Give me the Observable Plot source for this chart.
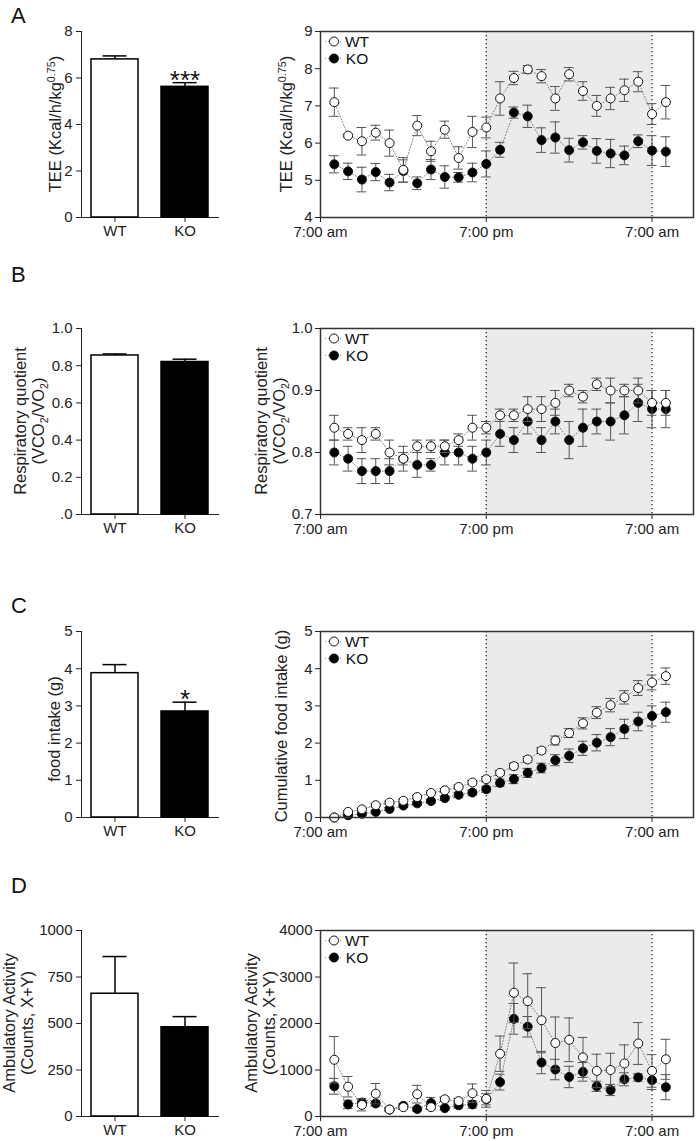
<!DOCTYPE html>
<html><head><meta charset="utf-8">
<script src="https://cdn.jsdelivr.net/npm/d3@7"></script>
<script src="https://cdn.jsdelivr.net/npm/@observablehq/plot@0.6"></script>
<style>
body{margin:0;background:#fff;font-family:"Liberation Sans",Arial,sans-serif;}
#root{position:relative;width:700px;height:1141px;overflow:hidden;background:#fff;}
#root svg{position:absolute;overflow:visible;}
.letter{position:absolute;font-size:22px;line-height:22px;color:#111;}
.ylab{position:absolute;transform:translate(-50%,-50%) rotate(-90deg);white-space:nowrap;text-align:center;font-size:16.5px;line-height:18px;color:#222;}
.ylab sup,.ylab sub{font-size:0.65em;line-height:0;}
</style></head>
<body><div id="root"></div>
<script>
// ---------- data ----------
const groups = ["WT", "KO"];
const hours = [1,2,3,4,5,6,7,8,9,10,11,12,13,14,15,16,17,18,19,20,21,22,23,24,25];
const timeTicks = [0, 12, 24];
const timeLabels = ["7:00 am", "7:00 pm", "7:00 am"];
const darkPhase = [{start: 12, end: 24}];

// A: TEE
const teeBar = [6.8, 5.62];
const teeBarErr = [0.15, 0.18];
const teeBarSig = ["", "***"];
const teeWT = [7.1,6.2,6.05,6.28,6.0,5.28,6.47,5.78,6.36,5.6,6.3,6.42,7.2,7.75,7.98,7.8,7.2,7.85,7.4,7.0,7.2,7.42,7.65,6.78,7.1];
const teeWTErr = [0.38,0.04,0.37,0.2,0.35,0.33,0.27,0.27,0.23,0.3,0.42,0.28,0.45,0.18,0.1,0.18,0.32,0.18,0.25,0.28,0.3,0.3,0.27,0.28,0.45];
const teeKO = [5.43,5.24,5.02,5.22,4.94,5.25,4.92,5.29,5.09,5.08,5.21,5.44,5.82,6.82,6.72,6.08,6.15,5.81,6.02,5.79,5.72,5.67,6.05,5.8,5.77];
const teeKOErr = [0.23,0.22,0.33,0.23,0.22,0.3,0.17,0.27,0.3,0.13,0.25,0.35,0.2,0.15,0.3,0.33,0.42,0.32,0.18,0.33,0.38,0.25,0.17,0.4,0.4];

// B: RQ
const rqBar = [0.855, 0.82];
const rqBarErr = [0.008, 0.015];
const rqBarSig = ["", ""];
const rqWT = [0.84,0.83,0.82,0.83,0.80,0.79,0.81,0.81,0.81,0.82,0.84,0.84,0.86,0.86,0.87,0.87,0.88,0.90,0.89,0.91,0.90,0.90,0.90,0.88,0.88];
const rqWTErr = [0.02,0.01,0.02,0.01,0.02,0.02,0.01,0.01,0.01,0.01,0.02,0.01,0.01,0.01,0.02,0.02,0.02,0.01,0.01,0.01,0.02,0.01,0.02,0.02,0.02];
const rqKO = [0.80,0.79,0.77,0.77,0.77,0.79,0.78,0.78,0.80,0.80,0.79,0.80,0.83,0.82,0.85,0.82,0.85,0.82,0.84,0.85,0.85,0.86,0.88,0.87,0.87];
const rqKOErr = [0.02,0.02,0.02,0.02,0.02,0.01,0.02,0.01,0.02,0.02,0.02,0.02,0.02,0.02,0.02,0.02,0.02,0.03,0.03,0.02,0.03,0.03,0.03,0.03,0.03];

// C: food intake
const foodBar = [3.88, 2.85];
const foodBarErr = [0.23, 0.25];
const foodBarSig = ["", "*"];
const cumWT = [0.0,0.15,0.22,0.33,0.4,0.45,0.55,0.66,0.73,0.82,0.94,1.03,1.2,1.38,1.56,1.8,2.07,2.27,2.53,2.82,3.02,3.23,3.48,3.63,3.8];
const cumWTErr = [0,0.03,0.03,0.04,0.04,0.04,0.05,0.05,0.05,0.05,0.06,0.07,0.07,0.08,0.08,0.08,0.12,0.12,0.15,0.16,0.18,0.18,0.2,0.2,0.22];
const cumKO = [0.0,0.06,0.1,0.15,0.23,0.32,0.38,0.44,0.52,0.61,0.67,0.76,0.93,1.03,1.2,1.33,1.54,1.66,1.86,2.01,2.16,2.38,2.58,2.73,2.83];
const cumKOErr = [0,0.02,0.03,0.03,0.04,0.04,0.05,0.05,0.06,0.07,0.07,0.08,0.1,0.12,0.12,0.13,0.15,0.18,0.19,0.22,0.23,0.26,0.25,0.27,0.27];

// D: ambulatory activity
const actBar = [660, 480];
const actBarErr = [200, 57];
const actBarSig = ["", ""];
const actWT = [1220,640,250,490,150,200,480,200,370,330,500,380,1350,2660,2480,2070,1580,1650,1270,980,1000,1140,1570,980,1230];
const actWTErr = [500,220,130,220,30,50,190,50,50,60,200,180,380,640,590,700,560,470,430,360,360,400,450,350,430];
const actKO = [650,260,300,280,150,230,160,290,180,240,260,370,740,2100,1930,1160,1010,850,960,650,570,800,840,780,630];
const actKOErr = [170,90,80,60,30,40,40,120,40,60,80,120,170,330,220,240,220,230,200,110,120,140,80,200,270];

// ---------- helpers ----------
const root = document.getElementById("root");
const baseStyle = {fontFamily: "'Liberation Sans', Arial, sans-serif", fontSize: "15px", color: "#222", background: "transparent", overflow: "visible"};

function place(el, left, top) { el.style.left = left + "px"; el.style.top = top + "px"; root.appendChild(el); }

function barChart(cfg) {
  const data = groups.map((g, i) => ({g, v: cfg.values[i], top: cfg.values[i] + cfg.errs[i], sig: cfg.sig[i]}));
  return Plot.plot({
    width: 240, height: 250, marginTop: 31, marginBottom: 33, marginLeft: 81, marginRight: 22,
    style: baseStyle,
    x: {domain: groups, paddingInner: 0.33, paddingOuter: 0.14, tickSize: 5, tickPadding: 3, label: null, line: true},
    y: {domain: cfg.yDomain, ticks: cfg.yTicks, tickFormat: cfg.yFormat, tickSize: 5, tickPadding: 4, label: null, line: true},
    marks: [
      Plot.ruleX(data, {x: "g", y1: "v", y2: "top", stroke: "black", strokeWidth: 1.5}),
      Plot.tickY(data, {x: "g", y: "top", insetLeft: 11.5, insetRight: 11.5, stroke: "black", strokeWidth: 1.5}),
      Plot.barY(data.filter(d => d.g === "WT"), {x: "g", y: "v", fill: "white", stroke: "black", strokeWidth: 1.5}),
      Plot.barY(data.filter(d => d.g === "KO"), {x: "g", y: "v", fill: "black", stroke: "black", strokeWidth: 1.5}),
      Plot.text(data, {x: "g", y: "top", text: "sig", fontSize: 26, lineAnchor: "bottom", dy: 6, fill: "#111"})
    ]
  });
}

function seriesChart(cfg) {
  const cap = 0.35;
  const mk = (v, e) => hours.map((h, i) => ({h, v: v[i], lo: v[i] - e[i], hi: v[i] + e[i]}));
  const ko = mk(cfg.ko, cfg.koErr);
  const wt = mk(cfg.wt, cfg.wtErr);
  const seriesMarks = (d, fill) => [
    Plot.line(d, {x: "h", y: "v", stroke: "#808080", strokeWidth: 1, strokeDasharray: "1,2"}),
    Plot.ruleX(d, {x: "h", y1: "lo", y2: "hi", stroke: "#555", strokeWidth: 1}),
    Plot.ruleY(d, {y: "hi", x1: r => r.h - cap, x2: r => r.h + cap, stroke: "#555", strokeWidth: 1}),
    Plot.ruleY(d, {y: "lo", x1: r => r.h - cap, x2: r => r.h + cap, stroke: "#555", strokeWidth: 1}),
    Plot.dot(d, {x: "h", y: "v", r: 4.5, fill, stroke: "#111", strokeWidth: 1})
  ];
  const svg = Plot.plot({
    width: 460, height: 250, marginTop: 31, marginBottom: 33, marginLeft: 80, marginRight: 7,
    style: baseStyle,
    x: {domain: [0, 27], ticks: timeTicks, tickFormat: d => timeLabels[timeTicks.indexOf(d)], tickSize: 5, tickPadding: 4, label: null},
    y: {domain: cfg.yDomain, ticks: cfg.yTicks, tickFormat: cfg.yFormat, tickSize: 5, tickPadding: 3, label: null},
    marks: [
      Plot.rect(darkPhase, {x1: "start", x2: "end", fill: "#ebebeb"}),
      Plot.ruleX(darkPhase.flatMap(d => [d.start, d.end]), {stroke: "#222", strokeWidth: 1.3, strokeDasharray: "1.3,2.7"}),
      ...seriesMarks(ko, "black"),
      ...seriesMarks(wt, "white"),
      Plot.frame({stroke: "#333", strokeWidth: 1.5})
    ]
  });
  // legend
  const g = d3.select(svg).append("g");
  [["WT", "white", 10.5], ["KO", "black", 27.5]].forEach(([name, fill, dy]) => {
    const y = 31 + dy;
    g.append("line").attr("x1", 85).attr("x2", 103).attr("y1", y).attr("y2", y)
      .attr("stroke", "#808080").attr("stroke-dasharray", "1,2");
    g.append("circle").attr("cx", 94).attr("cy", y).attr("r", 4.5).attr("fill", fill).attr("stroke", "#111");
    g.append("text").attr("x", 117).attr("y", y).attr("dy", "0.36em").attr("fill", "#111")
      .style("font-size", "15.5px").text(name);
  });
  return svg;
}

function letter(t, top) { const d = document.createElement("div"); d.className = "letter"; d.textContent = t; place(d, 11, top); }
function ylab(html, cx, cy) { const d = document.createElement("div"); d.className = "ylab"; d.innerHTML = html; place(d, cx, cy); }

const f1 = d => d.toFixed(1);
const panels = [
  {top: 0, letter: "A", letterTop: 4.7,
   bar: {values: teeBar, errs: teeBarErr, sig: teeBarSig, yDomain: [0, 8], yTicks: [0, 2, 4, 6, 8], yFormat: d => String(d)},
   series: {wt: teeWT, wtErr: teeWTErr, ko: teeKO, koErr: teeKOErr, yDomain: [4, 9], yTicks: [4, 5, 6, 7, 8, 9], yFormat: d => String(d)},
   labL: ["TEE (Kcal/h/kg<sup>0.75</sup>)", 55, 124], labR: ["TEE (Kcal/h/kg<sup>0.75</sup>)", 286, 124]},
  {top: 297, letter: "B", letterTop: 263.7,
   bar: {values: rqBar, errs: rqBarErr, sig: rqBarSig, yDomain: [0, 1], yTicks: [0, 0.2, 0.4, 0.6, 0.8, 1.0], yFormat: d => d === 0 ? ".0" : f1(d)},
   series: {wt: rqWT, wtErr: rqWTErr, ko: rqKO, koErr: rqKOErr, yDomain: [0.7, 1.0], yTicks: [0.7, 0.8, 0.9, 1.0], yFormat: f1},
   labL: ["Respiratory quotient<br>(VCO<sub>2</sub>/VO<sub>2</sub>)", 29, 421], labR: ["Respiratory quotient<br>(VCO<sub>2</sub>/VO<sub>2</sub>)", 270, 421]},
  {top: 600, letter: "C", letterTop: 594.7,
   bar: {values: foodBar, errs: foodBarErr, sig: foodBarSig, yDomain: [0, 5], yTicks: [0, 1, 2, 3, 4, 5], yFormat: d => String(d)},
   series: {wt: cumWT, wtErr: cumWTErr, ko: cumKO, koErr: cumKOErr, yDomain: [0, 5], yTicks: [0, 1, 2, 3, 4, 5], yFormat: d => String(d)},
   labL: ["food intake (g)", 54, 729], labR: ["Cumulative food intake (g)", 281, 726]},
  {top: 899, letter: "D", letterTop: 874.7,
   bar: {values: actBar, errs: actBarErr, sig: actBarSig, yDomain: [0, 1000], yTicks: [0, 250, 500, 750, 1000], yFormat: d => String(d)},
   series: {wt: actWT, wtErr: actWTErr, ko: actKO, koErr: actKOErr, yDomain: [0, 4000], yTicks: [0, 1000, 2000, 3000, 4000], yFormat: d => String(d)},
   labL: ["Ambulatory Activity<br>(Counts, X+Y)", 18, 1023], labR: ["Ambulatory Activity<br>(Counts, X+Y)", 260, 1023]}
];

panels.forEach(p => {
  place(barChart(p.bar), 0, p.top);
  place(seriesChart(p.series), 240, p.top);
  letter(p.letter, p.letterTop);
  ylab(...p.labL);
  ylab(...p.labR);
});
</script>
</body></html>
